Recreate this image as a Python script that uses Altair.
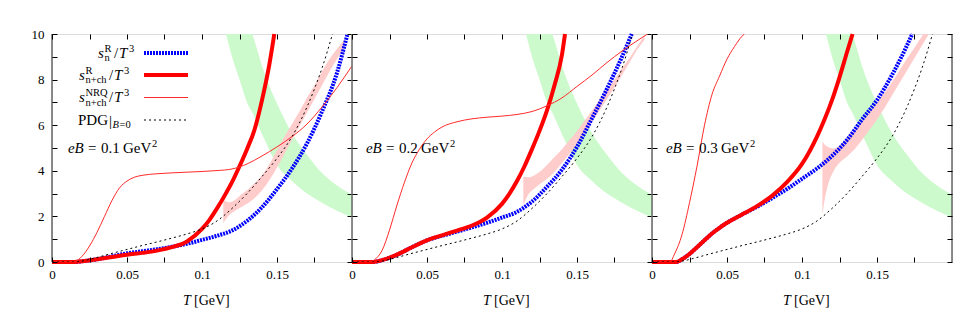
import altair as alt
import pandas as pd

FONT = "'Liberation Serif', 'Times New Roman', 'DejaVu Serif', serif"

# ---------------- data ----------------
X_TICKS = [0, 0.025, 0.05, 0.075, 0.1, 0.125, 0.15, 0.175]
Y_TICKS = [0, 1, 2, 3, 4, 5, 6, 7, 8, 9, 10]

# green band (same in every panel)
GREEN_T = [0.116, 0.12, 0.125, 0.13, 0.1336, 0.135, 0.14, 0.145, 0.15, 0.16, 0.17, 0.18, 0.19, 0.2]
GREEN_LO = [10.0, 9.0, 8.0, 7.0, 6.55, 6.35, 5.6, 4.9, 4.25, 3.55, 3.0, 2.6, 2.25, 1.95]
GREEN_HI = [15.0, 13.8, 12.3, 10.9, 10.0, 9.7, 8.6, 7.7, 6.95, 5.65, 4.7, 3.9, 3.35, 2.95]

# PDG at B=0 (same in every panel)
PDG_T = [0, 0.015, 0.02, 0.03, 0.04, 0.05, 0.06, 0.07, 0.08, 0.09, 0.1, 0.11, 0.12, 0.13,
         0.14, 0.15, 0.16, 0.17, 0.175, 0.18, 0.187]
PDG_Y = [0, 0, 0.04, 0.2, 0.38, 0.55, 0.72, 0.88, 1.05, 1.23, 1.45, 1.8, 2.35, 3.0,
         3.75, 4.55, 5.5, 6.8, 7.6, 8.5, 10.0]

# eB = 0.1
B1_T = [0, 0.015, 0.02, 0.03, 0.04, 0.05, 0.06, 0.07, 0.08, 0.09, 0.1, 0.11, 0.12, 0.13,
        0.14, 0.15, 0.16, 0.17, 0.18, 0.19, 0.197]
B1_Y = [0, 0, 0.03, 0.12, 0.25, 0.38, 0.47, 0.56, 0.67, 0.8, 0.97, 1.15, 1.38, 1.8,
        2.4, 3.2, 4.1, 5.2, 6.6, 8.3, 10.0]
R1_T = [0, 0.015, 0.02, 0.03, 0.04, 0.05, 0.06, 0.07, 0.08, 0.09, 0.1, 0.105, 0.11, 0.115,
        0.12, 0.125, 0.13, 0.135, 0.14, 0.145, 0.1482]
R1_Y = [0, 0, 0.03, 0.12, 0.22, 0.32, 0.4, 0.5, 0.65, 0.9, 1.45, 1.85, 2.35, 2.9,
        3.5, 4.2, 4.95, 5.8, 7.1, 8.7, 10.0]
N1_T = [0, 0.015, 0.02, 0.025, 0.03, 0.035, 0.04, 0.045, 0.05, 0.055, 0.06, 0.07, 0.08,
        0.09, 0.1, 0.11, 0.12, 0.13, 0.14, 0.15, 0.16, 0.17, 0.18, 0.19, 0.2]
N1_Y = [0, 0.02, 0.25, 0.7, 1.3, 2.0, 2.7, 3.25, 3.55, 3.72, 3.8, 3.87, 3.91,
        3.94, 3.97, 4.01, 4.08, 4.3, 4.65, 5.05, 5.5, 6.05, 6.8, 7.65, 8.6]
P1_T = [0.1142, 0.118, 0.122, 0.126, 0.13, 0.135, 0.14, 0.145, 0.15, 0.155, 0.16, 0.165,
        0.17, 0.175, 0.18, 0.185, 0.19, 0.195]
P1_HI = [2.72, 2.62, 2.72, 2.95, 3.15, 3.45, 3.8, 4.3, 4.9, 5.5, 6.05, 6.6,
         7.2, 7.75, 8.35, 8.9, 9.35, 9.75]
P1_LO = [1.7, 2.05, 2.25, 2.4, 2.55, 2.8, 3.15, 3.6, 4.15, 4.75, 5.35, 5.95,
         6.55, 7.15, 7.75, 8.35, 8.9, 9.4]

# eB = 0.2
B2_T = [0, 0.014, 0.02, 0.03, 0.04, 0.05, 0.06, 0.07, 0.08, 0.09, 0.1, 0.11, 0.12, 0.13,
        0.14, 0.15, 0.16, 0.17, 0.18, 0.1865]
B2_Y = [0, 0, 0.08, 0.32, 0.65, 0.95, 1.15, 1.33, 1.52, 1.72, 1.95, 2.2, 2.65, 3.3,
        4.05, 5.05, 6.3, 7.6, 9.0, 10.0]
R2_T = [0, 0.014, 0.02, 0.03, 0.04, 0.05, 0.06, 0.07, 0.08, 0.09, 0.1, 0.105, 0.11, 0.115,
        0.12, 0.125, 0.13, 0.135, 0.14, 0.142]
R2_Y = [0, 0, 0.08, 0.32, 0.65, 0.95, 1.17, 1.38, 1.6, 1.95, 2.55, 3.0, 3.55, 4.2,
        4.95, 5.75, 6.65, 7.75, 9.1, 10.0]
N2_T = [0, 0.012, 0.015, 0.02, 0.025, 0.03, 0.035, 0.04, 0.045, 0.05, 0.055, 0.06, 0.07,
        0.08, 0.09, 0.1, 0.11, 0.12, 0.13, 0.14, 0.15, 0.16, 0.17, 0.18, 0.19, 0.197]
N2_Y = [0, 0, 0.1, 0.5, 1.4, 2.5, 3.5, 4.35, 4.95, 5.4, 5.7, 5.92, 6.15,
        6.28, 6.35, 6.4, 6.47, 6.6, 6.85, 7.2, 7.7, 8.2, 8.75, 9.25, 9.7, 10.0]
P2_T = [0.1142, 0.118, 0.122, 0.126, 0.13, 0.135, 0.14, 0.145, 0.15, 0.155, 0.16, 0.165,
        0.17, 0.175, 0.18, 0.185, 0.19, 0.195]
P2_HI = [3.74, 3.72, 3.82, 4.0, 4.25, 4.6, 4.95, 5.35, 5.75, 6.2, 6.65, 7.1,
         7.55, 8.0, 8.5, 8.95, 9.45, 9.95]
P2_LO = [2.5, 3.0, 3.25, 3.45, 3.65, 3.95, 4.35, 4.75, 5.2, 5.65, 6.15, 6.65,
         7.15, 7.65, 8.2, 8.75, 9.3, 9.75]

# eB = 0.3
B3_T = [0, 0.016, 0.02, 0.025, 0.03, 0.035, 0.04, 0.045, 0.05, 0.06, 0.07, 0.08, 0.09,
        0.1, 0.11, 0.12, 0.13, 0.14, 0.15, 0.16, 0.17, 0.1735]
B3_Y = [0, 0, 0.12, 0.35, 0.65, 0.95, 1.25, 1.5, 1.72, 2.08, 2.42, 2.8, 3.2,
        3.65, 4.1, 4.65, 5.35, 6.25, 7.1, 8.2, 9.5, 10.0]
R3_T = [0, 0.016, 0.02, 0.025, 0.03, 0.035, 0.04, 0.045, 0.05, 0.06, 0.07, 0.08, 0.09,
        0.1, 0.105, 0.11, 0.115, 0.12, 0.125, 0.13, 0.1337]
R3_Y = [0, 0, 0.12, 0.35, 0.65, 0.95, 1.25, 1.5, 1.72, 2.08, 2.45, 2.9, 3.5,
        4.3, 4.85, 5.5, 6.25, 7.1, 8.1, 9.2, 10.0]
N3_T = [0, 0.012, 0.015, 0.02, 0.025, 0.03, 0.035, 0.04, 0.045, 0.05, 0.055, 0.06, 0.0615]
N3_Y = [0, 0, 0.35, 1.2, 2.6, 4.2, 6.0, 7.35, 8.15, 8.9, 9.45, 9.9, 10.0]
P3_T = [0.1136, 0.115, 0.117, 0.121, 0.125, 0.13, 0.135, 0.14, 0.145, 0.15, 0.155, 0.16,
        0.165, 0.17, 0.175, 0.18, 0.185]
P3_HI = [5.28, 5.15, 5.05, 4.98, 5.1, 5.45, 5.78, 6.15, 6.58, 7.0, 7.42, 7.9,
         8.4, 8.92, 9.4, 9.9, 10.3]
P3_LO = [2.06, 2.7, 3.3, 3.98, 4.35, 4.63, 4.95, 5.35, 5.8, 6.25, 6.75, 7.3,
         7.85, 8.4, 8.95, 9.5, 10.05]

EB_LABELS = ["0.1", "0.2", "0.3"]

# ---------------- styling ----------------
W, H = 300, 228
GREEN = "#ccfacc"
PINK = "#ffcccc"
BLUE = "#0000ff"
RED = "#ff0000"
THIN_RED = "#ff2a2a"

XS = alt.Scale(domain=[0, 0.2], nice=False, zero=False)
YS = alt.Scale(domain=[0, 10], nice=False, zero=False)
ONE = pd.DataFrame({"k": [0]})


def axis(orient, labels, values, expr=None, pad=6):
    kw = dict(orient=orient, values=values, tickSize=5, offset=-5, domain=False,
              grid=False, title=None, labels=labels, tickColor="black",
              labelFont=FONT, labelFontSize=13, labelColor="black",
              labelFlush=False, labelOverlap=False, labelPadding=pad, zindex=1)
    if orient in ("bottom", "top"):
        kw["format"] = ".3~f"
    if expr:
        kw["labelExpr"] = expr
    return alt.Axis(**kw)


def line_layer(ts, ys, color, width, dash=None, xaxis=None, yaxis=None, clip=True):
    df = pd.DataFrame({"T": ts, "y": ys})
    mk = dict(color=color, strokeWidth=width, clip=clip, interpolate="monotone")
    if dash:
        mk["strokeDash"] = dash
    return alt.Chart(df).mark_line(**mk).encode(
        x=alt.X("T:Q", scale=XS, axis=xaxis),
        y=alt.Y("y:Q", scale=YS, axis=yaxis),
    )


def band_layer(ts, lo, hi, color):
    df = pd.DataFrame({"T": ts, "lo": lo, "hi": hi})
    return alt.Chart(df).mark_area(color=color, clip=True, interpolate="monotone").encode(
        x=alt.X("T:Q", scale=XS, axis=None),
        y=alt.Y("lo:Q", scale=YS, axis=None),
        y2="hi:Q",
    )


def txt(s, x, y, size=15, italic=False, align="left"):
    return alt.Chart(ONE).mark_text(
        text=s, font=FONT, fontSize=size, fontStyle="italic" if italic else "normal",
        align=align, baseline="alphabetic", color="black",
    ).encode(x=alt.value(x), y=alt.value(y))


def rule(x1, x2, y1, y2, color, width, dash=None):
    mk = dict(color=color, strokeWidth=width)
    if dash:
        mk["strokeDash"] = dash
    return alt.Chart(ONE).mark_rule(**mk).encode(
        x=alt.value(x1), x2=alt.value(x2), y=alt.value(y1), y2=alt.value(y2))


def label_eb(x0, val):
    b = 119
    return [txt("e", x0, b, italic=True), txt("B", x0 + 6.5, b, italic=True),
            txt("=", x0 + 20, b), txt(val, x0 + 33, b), txt("GeV", x0 + 55, b),
            txt("2", x0 + 84, b - 6, size=10.5)]


def legend_layers():
    L = []
    b1, b2, b3, b4 = 23.5, 45.5, 68, 90.5
    L += [txt("s", 46, b1, italic=True), txt("R", 52.5, b1 - 6, size=10.5),
          txt("n", 52.5, b1 + 3.5, size=10.5), txt("/", 62, b1), txt("T", 67, b1, italic=True),
          txt("3", 77, b1 - 6, size=10.5)]
    L += [txt("s", 27, b2, italic=True), txt("R", 33.5, b2 - 6, size=10.5),
          txt("n+ch", 33.5, b2 + 3.5, size=10.5), txt("/", 57, b2), txt("T", 62, b2, italic=True),
          txt("3", 72, b2 - 6, size=10.5)]
    L += [txt("s", 27, b3, italic=True), txt("NRQ", 33.5, b3 - 6, size=10.5),
          txt("n+ch", 33.5, b3 + 3.5, size=10.5), txt("/", 57, b3), txt("T", 62, b3, italic=True),
          txt("3", 72, b3 - 6, size=10.5)]
    L += [txt("PDG", 26, b4), txt("|", 57, b4 + 1), txt("B", 60.5, b4 + 3.5, size=10.5, italic=True),
          txt("=0", 67.5, b4 + 3.5, size=10.5)]
    L += [rule(92, 136, 19, 19, BLUE, 4, [2, 1]),
          rule(92, 136, 41, 41, RED, 4),
          rule(92, 136, 63.5, 63.5, THIN_RED, 1),
          rule(92, 136, 86, 86, "black", 1, [2, 3])]
    return L


def panel(B_T, B_Y, R_T, R_Y, N_T, N_Y, P_T, P_LO, P_HI, eb, first, last):
    layers = [
        band_layer(GREEN_T, GREEN_LO, GREEN_HI, GREEN),
        band_layer(P_T, P_LO, P_HI, PINK),
        line_layer(B_T, B_Y, BLUE, 4, [2, 1],
                   xaxis=axis("top", False, X_TICKS),
                   yaxis=axis("right", False, Y_TICKS), clip=False),
        line_layer(R_T, R_Y, RED, 4, clip=False),
        line_layer(N_T, N_Y, THIN_RED, 1),
        line_layer(PDG_T, PDG_Y, "black", 1, [2, 3],
                   xaxis=axis("bottom", True, X_TICKS,
                              "length(datum.label) <= 4 ? datum.label : ''", pad=6),
                   yaxis=axis("left", first, Y_TICKS,
                              "datum.value % 2 === 0 ? datum.label : ''", pad=8)),
        rule(0, 0, 0, H, "#707070", 1.6),
    ]
    if last:
        layers.append(rule(W, W, 0, H, "#707070", 1.6))
    layers += label_eb(16 if first else 14, eb)
    layers += [txt("T", 131, 271, size=14, italic=True), txt("[GeV]", 142, 271, size=14)]
    if first:
        layers += legend_layers()
    return alt.layer(*layers).resolve_axis(x="independent", y="independent").properties(
        width=W, height=H)


p1 = panel(B1_T, B1_Y, R1_T, R1_Y, N1_T, N1_Y, P1_T, P1_LO, P1_HI, EB_LABELS[0], True, False)
p2 = panel(B2_T, B2_Y, R2_T, R2_Y, N2_T, N2_Y, P2_T, P2_LO, P2_HI, EB_LABELS[1], False, False)
p3 = panel(B3_T, B3_Y, R3_T, R3_Y, N3_T, N3_Y, P3_T, P3_LO, P3_HI, EB_LABELS[2], False, True)

chart = alt.hconcat(p1, p2, p3, spacing=0, bounds="flush").properties(
    padding={"left": 22, "top": 17, "right": 5, "bottom": 5}
).configure_view(stroke="black", strokeWidth=1).configure(background="white")

chart.save("out.html", embed_options={"renderer": "svg", "actions": False})
